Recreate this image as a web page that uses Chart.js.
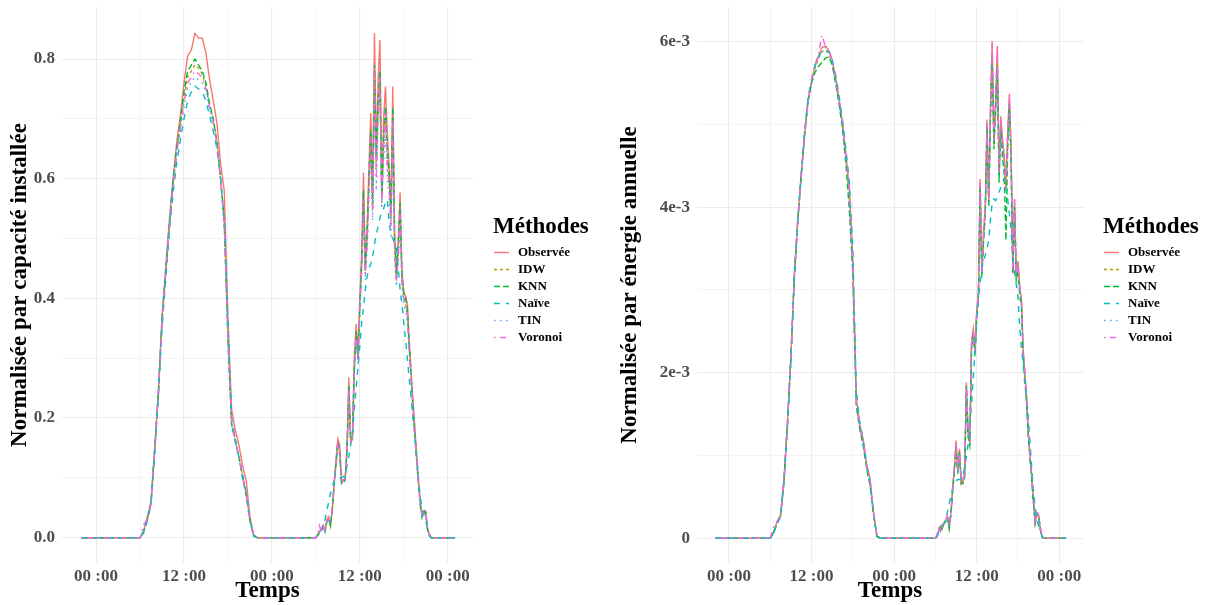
<!DOCTYPE html>
<html lang="fr">
<head>
<meta charset="utf-8">
<title>Production normalisée par méthode</title>
<script src="https://cdn.jsdelivr.net/npm/chart.js@4.4.1/dist/chart.umd.min.js"></script>
<style>
  html, body { margin: 0; padding: 0; background: #ffffff; overflow: hidden; }
  .panel { position: absolute; top: 0; width: 604px; height: 605px; }
  #panelCapacite { left: 0; }
  #panelEnergie { left: 604px; }
</style>
</head>
<body>
<div class="panel" id="panelCapacite"><canvas id="chartCapacite" width="604" height="605"></canvas></div>
<div class="panel" id="panelEnergie"><canvas id="chartEnergie" width="604" height="605"></canvas></div>
<script>
// Temps en heures depuis minuit du premier jour
const heures = [-2,
  5.5, 6, 6.5, 7, 7.5, 8, 8.5, 9, 9.5, 10, 10.5, 11, 11.5, 12, 12.5, 13, 13.5, 14, 14.5, 15, 15.5, 16, 16.5, 17, 17.5, 18, 18.5, 19, 19.5, 20, 20.5, 21, 21.5, 22,
  30, 30.25, 30.5, 30.75, 31, 31.25, 31.5, 31.75, 32, 32.25, 32.5, 32.75, 33, 33.25, 33.5, 33.75, 34, 34.25, 34.5, 34.75, 35, 35.25, 35.5, 35.75,
  36, 36.25, 36.5, 36.75, 37, 37.25, 37.5, 37.75, 38, 38.25, 38.5, 38.75, 39, 39.25, 39.5, 39.75, 40, 40.25, 40.5, 40.75, 41, 41.25, 41.5, 41.75,
  42, 42.25, 42.5, 42.75, 43, 43.25, 43.5, 43.75, 44, 44.25, 44.5, 44.75, 45, 45.25, 45.5, 45.75, 46,
  49];

const methodes = ['Observée', 'IDW', 'KNN', 'Naïve', 'TIN', 'Voronoi'];

// Normalisée par capacité installée
const capObservee = [0,
  0, 0, 0.012, 0.035, 0.06, 0.15, 0.245, 0.37, 0.45, 0.53, 0.6, 0.66, 0.705, 0.76, 0.805, 0.815, 0.843, 0.835, 0.835, 0.81, 0.765, 0.73, 0.693, 0.625, 0.58, 0.37, 0.215, 0.18, 0.155, 0.12, 0.095, 0.035, 0.005, 0,
  0, 0.005, 0.01, 0.015, 0.02, 0.012, 0.03, 0.035, 0.02, 0.05, 0.093, 0.13, 0.165, 0.155, 0.095, 0.097, 0.098, 0.15, 0.268, 0.165, 0.17, 0.3, 0.357, 0.31,
  0.4, 0.477, 0.61, 0.454, 0.52, 0.62, 0.71, 0.57, 0.843, 0.643, 0.765, 0.832, 0.577, 0.7, 0.754, 0.677, 0.62, 0.554, 0.754, 0.51, 0.437, 0.5, 0.577, 0.443,
  0.41, 0.404, 0.39, 0.33, 0.28, 0.23, 0.187, 0.14, 0.098, 0.06, 0.037, 0.045, 0.045, 0.015, 0.005, 0, 0,
  0];
const capIDW = [0,
  0, 0, 0.01, 0.03, 0.055, 0.145, 0.24, 0.36, 0.44, 0.52, 0.59, 0.645, 0.69, 0.735, 0.77, 0.78, 0.79, 0.785, 0.775, 0.755, 0.72, 0.7, 0.665, 0.6, 0.52, 0.34, 0.19, 0.165, 0.135, 0.105, 0.075, 0.03, 0.004, 0,
  0, 0.004, 0.008, 0.013, 0.018, 0.012, 0.028, 0.03, 0.022, 0.045, 0.09, 0.12, 0.15, 0.14, 0.095, 0.095, 0.1, 0.14, 0.245, 0.16, 0.17, 0.28, 0.335, 0.3,
  0.38, 0.45, 0.56, 0.44, 0.5, 0.59, 0.66, 0.55, 0.77, 0.62, 0.72, 0.76, 0.56, 0.66, 0.7, 0.64, 0.6, 0.53, 0.69, 0.49, 0.43, 0.48, 0.54, 0.43,
  0.4, 0.39, 0.37, 0.32, 0.27, 0.22, 0.18, 0.135, 0.095, 0.058, 0.036, 0.042, 0.04, 0.014, 0.004, 0, 0,
  0];
const capKNN = [0,
  0, 0, 0.01, 0.032, 0.058, 0.148, 0.24, 0.365, 0.445, 0.525, 0.595, 0.65, 0.695, 0.745, 0.78, 0.79, 0.8, 0.79, 0.78, 0.76, 0.725, 0.7, 0.66, 0.6, 0.53, 0.33, 0.19, 0.16, 0.135, 0.1, 0.07, 0.028, 0.003, 0,
  0, 0.004, 0.009, 0.012, 0.02, 0.01, 0.026, 0.032, 0.02, 0.048, 0.09, 0.125, 0.16, 0.145, 0.09, 0.092, 0.096, 0.145, 0.255, 0.16, 0.165, 0.29, 0.345, 0.3,
  0.39, 0.46, 0.58, 0.45, 0.51, 0.6, 0.68, 0.56, 0.79, 0.63, 0.73, 0.78, 0.57, 0.67, 0.72, 0.65, 0.61, 0.54, 0.72, 0.5, 0.44, 0.49, 0.56, 0.44,
  0.41, 0.4, 0.38, 0.32, 0.27, 0.22, 0.175, 0.13, 0.09, 0.055, 0.034, 0.044, 0.042, 0.013, 0.003, 0, 0,
  0];
const capNaive = [0,
  0, 0, 0.008, 0.028, 0.055, 0.14, 0.235, 0.35, 0.43, 0.51, 0.575, 0.625, 0.665, 0.7, 0.73, 0.745, 0.755, 0.75, 0.745, 0.73, 0.705, 0.68, 0.65, 0.6, 0.53, 0.36, 0.2, 0.165, 0.135, 0.105, 0.075, 0.03, 0.004, 0,
  0, 0.003, 0.008, 0.014, 0.02, 0.03, 0.045, 0.06, 0.075, 0.085, 0.095, 0.1, 0.1, 0.1, 0.1, 0.102, 0.104, 0.12, 0.135, 0.155, 0.175, 0.215, 0.25, 0.285,
  0.32, 0.36, 0.385, 0.415, 0.437, 0.45, 0.458, 0.47, 0.49, 0.508, 0.52, 0.535, 0.545, 0.55, 0.56, 0.565, 0.53, 0.505, 0.5, 0.493, 0.485, 0.45, 0.415, 0.39,
  0.36, 0.33, 0.298, 0.265, 0.235, 0.2, 0.17, 0.138, 0.1, 0.068, 0.05, 0.038, 0.028, 0.015, 0.006, 0, 0,
  0];
const capTIN = [0,
  0, 0, 0.01, 0.03, 0.056, 0.145, 0.238, 0.358, 0.438, 0.518, 0.585, 0.64, 0.68, 0.72, 0.75, 0.762, 0.77, 0.765, 0.76, 0.745, 0.715, 0.69, 0.655, 0.595, 0.52, 0.335, 0.19, 0.16, 0.132, 0.1, 0.072, 0.028, 0.003, 0,
  0, 0.004, 0.01, 0.014, 0.02, 0.012, 0.027, 0.03, 0.024, 0.046, 0.088, 0.12, 0.155, 0.14, 0.1, 0.098, 0.1, 0.14, 0.24, 0.16, 0.17, 0.27, 0.325, 0.29,
  0.37, 0.44, 0.54, 0.43, 0.48, 0.57, 0.64, 0.53, 0.74, 0.58, 0.69, 0.74, 0.55, 0.63, 0.68, 0.6, 0.57, 0.5, 0.66, 0.46, 0.42, 0.46, 0.52, 0.42,
  0.39, 0.38, 0.36, 0.31, 0.26, 0.21, 0.17, 0.13, 0.09, 0.055, 0.035, 0.04, 0.038, 0.013, 0.004, 0, 0,
  0];
const capVoronoi = [0,
  0, 0, 0.022, 0.03, 0.057, 0.146, 0.24, 0.36, 0.44, 0.52, 0.588, 0.642, 0.685, 0.728, 0.76, 0.77, 0.78, 0.775, 0.77, 0.75, 0.72, 0.695, 0.66, 0.6, 0.525, 0.34, 0.195, 0.165, 0.135, 0.102, 0.074, 0.03, 0.004, 0,
  0, 0.006, 0.02, 0.008, 0.022, 0.01, 0.03, 0.028, 0.025, 0.05, 0.09, 0.125, 0.16, 0.15, 0.09, 0.095, 0.098, 0.14, 0.25, 0.16, 0.165, 0.28, 0.34, 0.3,
  0.38, 0.45, 0.57, 0.44, 0.49, 0.58, 0.67, 0.54, 0.78, 0.6, 0.71, 0.77, 0.56, 0.65, 0.71, 0.62, 0.59, 0.52, 0.7, 0.48, 0.43, 0.47, 0.55, 0.43,
  0.4, 0.39, 0.37, 0.31, 0.27, 0.22, 0.175, 0.13, 0.092, 0.057, 0.035, 0.043, 0.04, 0.015, 0.004, 0, 0,
  0];

// Normalisée par énergie annuelle, valeurs en unités de 1e-3
const enerObservee = [0,
  0, 0, 0.08, 0.2, 0.28, 0.72, 1.4, 2.2, 3.2, 3.85, 4.38, 4.88, 5.3, 5.52, 5.7, 5.82, 5.93, 5.95, 5.9, 5.78, 5.57, 5.3, 5.02, 4.62, 4.2, 3.35, 1.7, 1.38, 1.2, 0.9, 0.72, 0.32, 0.02, 0,
  0, 0.03, 0.1, 0.15, 0.12, 0.19, 0.22, 0.26, 0.12, 0.3, 0.6, 0.85, 1.18, 0.8, 1.08, 0.65, 0.68, 0.75, 1.88, 1.28, 1.16, 2.37, 2.53, 2.28,
  2.75, 2.97, 4.34, 3.21, 3.7, 4.0, 5.06, 4.1, 5.2, 6.01, 4.82, 5.3, 5.95, 4.42, 5.1, 4.82, 4.62, 4.26, 4.9, 5.37, 4.7, 3.21, 4.1, 3.17,
  3.35, 3.05, 2.89, 2.28, 2.0, 1.7, 1.28, 1.0, 0.75, 0.45, 0.19, 0.3, 0.28, 0.12, 0.02, 0, 0,
  0];
const enerIDW = [0,
  0, 0, 0.07, 0.18, 0.27, 0.7, 1.38, 2.18, 3.15, 3.82, 4.36, 4.86, 5.27, 5.5, 5.68, 5.8, 5.88, 5.9, 5.86, 5.74, 5.52, 5.27, 4.98, 4.58, 4.12, 3.25, 1.62, 1.34, 1.15, 0.86, 0.66, 0.3, 0.02, 0,
  0, 0.03, 0.09, 0.14, 0.12, 0.18, 0.21, 0.24, 0.13, 0.29, 0.58, 0.82, 1.12, 0.82, 1.02, 0.68, 0.7, 0.78, 1.8, 1.26, 1.18, 2.3, 2.45, 2.25,
  2.7, 2.92, 4.2, 3.2, 3.62, 3.95, 4.92, 4.05, 5.1, 5.82, 4.75, 5.2, 5.78, 4.4, 5.0, 4.75, 4.55, 4.2, 4.82, 5.22, 4.6, 3.25, 4.0, 3.2,
  3.3, 3.0, 2.85, 2.25, 1.98, 1.66, 1.25, 0.98, 0.72, 0.43, 0.2, 0.29, 0.26, 0.11, 0.02, 0, 0,
  0];
const enerKNN = [0,
  0, 0, 0.07, 0.19, 0.28, 0.71, 1.39, 2.2, 3.18, 3.86, 4.4, 4.9, 5.3, 5.5, 5.63, 5.7, 5.75, 5.8, 5.82, 5.72, 5.5, 5.24, 4.95, 4.52, 3.95, 3.2, 1.6, 1.32, 1.12, 0.84, 0.64, 0.28, 0.02, 0,
  0, 0.02, 0.09, 0.13, 0.11, 0.18, 0.2, 0.25, 0.12, 0.28, 0.56, 0.8, 1.1, 0.78, 1.05, 0.66, 0.66, 0.74, 1.85, 1.22, 1.12, 2.32, 2.5, 2.2,
  2.68, 2.9, 4.25, 3.15, 3.6, 3.92, 5.0, 4.0, 5.1, 5.85, 4.7, 5.15, 5.7, 4.3, 4.95, 4.6, 4.4, 3.6, 4.7, 5.25, 4.55, 3.2, 4.0, 3.1,
  3.25, 2.95, 2.8, 2.2, 1.92, 1.62, 1.22, 0.96, 0.7, 0.42, 0.18, 0.3, 0.27, 0.1, 0.01, 0, 0,
  0];
const enerNaive = [0,
  0, 0, 0.06, 0.17, 0.26, 0.68, 1.35, 2.15, 3.12, 3.85, 4.4, 4.92, 5.33, 5.55, 5.72, 5.82, 5.88, 5.9, 5.88, 5.78, 5.6, 5.35, 5.05, 4.7, 4.3, 3.5, 1.8, 1.4, 1.18, 0.88, 0.68, 0.3, 0.03, 0,
  0, 0.02, 0.08, 0.14, 0.16, 0.18, 0.22, 0.32, 0.42, 0.5, 0.6, 0.66, 0.69, 0.71, 0.71, 0.71, 0.76, 0.86, 0.98, 1.13, 1.36, 1.62, 1.95, 2.25,
  2.6, 2.89, 3.09, 3.25, 3.35, 3.42, 3.5, 3.6, 3.85, 4.05, 4.1, 4.08, 4.12, 4.18, 4.24, 4.3, 4.35, 4.3, 4.1, 3.92, 3.7, 3.42, 3.2, 3.07,
  2.92, 2.55, 2.3, 2.12, 1.85, 1.72, 1.45, 1.16, 0.85, 0.58, 0.38, 0.22, 0.14, 0.08, 0.02, 0, 0,
  0];
const enerTIN = [0,
  0, 0, 0.07, 0.18, 0.27, 0.7, 1.37, 2.17, 3.14, 3.83, 4.37, 4.87, 5.28, 5.52, 5.7, 5.81, 5.9, 5.93, 5.88, 5.76, 5.55, 5.28, 5.0, 4.6, 4.15, 3.28, 1.65, 1.36, 1.16, 0.87, 0.68, 0.3, 0.02, 0,
  0, 0.03, 0.1, 0.14, 0.12, 0.19, 0.21, 0.25, 0.14, 0.3, 0.58, 0.84, 1.1, 0.84, 1.0, 0.7, 0.72, 0.8, 1.75, 1.3, 1.2, 2.28, 2.42, 2.3,
  2.72, 2.95, 4.1, 3.25, 3.6, 3.98, 4.85, 4.1, 5.05, 5.75, 4.85, 5.22, 5.7, 4.5, 5.0, 4.8, 4.6, 4.25, 4.85, 5.2, 4.65, 3.3, 4.0, 3.25,
  3.32, 3.02, 2.86, 2.3, 2.0, 1.68, 1.27, 1.0, 0.74, 0.44, 0.2, 0.29, 0.27, 0.12, 0.02, 0, 0,
  0];
const enerVoronoi = [0,
  0, 0, 0.15, 0.2, 0.28, 0.72, 1.4, 2.2, 3.18, 3.86, 4.4, 4.9, 5.3, 5.54, 5.72, 5.85, 6.08, 5.95, 5.9, 5.78, 5.56, 5.3, 5.04, 4.62, 4.25, 3.3, 1.66, 1.38, 1.18, 0.88, 0.7, 0.32, 0.03, 0,
  0, 0.05, 0.15, 0.08, 0.14, 0.2, 0.22, 0.27, 0.15, 0.3, 0.6, 0.86, 1.15, 0.82, 1.06, 0.66, 0.7, 0.78, 1.85, 1.28, 1.16, 2.35, 2.5, 2.26,
  2.74, 2.95, 4.3, 3.2, 3.68, 4.0, 5.02, 4.08, 5.15, 5.98, 4.8, 5.28, 5.92, 4.4, 5.08, 4.8, 4.6, 4.22, 4.88, 5.35, 4.68, 3.2, 4.08, 3.15,
  3.33, 3.04, 2.88, 2.27, 2.0, 1.7, 1.28, 1.0, 0.75, 0.46, 0.2, 0.32, 0.28, 0.13, 0.02, 0, 0,
  0];

// Graduations
const ticksTemps = [0, 12, 24, 36, 48];
const etiquettesTemps = ['00 :00', '12 :00', '00 :00', '12 :00', '00 :00'];
const ticksCapacite = [0, 0.2, 0.4, 0.6, 0.8];
const etiquettesCapacite = ['0.0', '0.2', '0.4', '0.6', '0.8'];
const ticksEnergie = [0, 2, 4, 6];
const etiquettesEnergie = ['0', '2e-3', '4e-3', '6e-3'];

// Styles ggplot (palette hue + types de trait par défaut)
const couleurs = ['#F8766D', '#B79F00', '#00BA38', '#00BFC4', '#619CFF', '#F564E3'];
const tirets = [[], [3, 3], [6, 3], [6, 6], [1.5, 4.5], [1.5, 4.5, 6, 4.5]];
const FONT = '"Liberation Serif", "DejaVu Serif", serif';
const GRILLE = '#EBEBEB';

function indexTick(value, liste) {
  return liste.findIndex(t => Math.abs(t - value) < 1e-6);
}

// Légende dessinée à droite du panneau, façon ggplot
const legendeMethodes = {
  id: 'legendeMethodes',
  afterDraw(chart, args, opts) {
    const ctx = chart.ctx;
    ctx.save();
    ctx.fillStyle = '#000000';
    ctx.textAlign = 'left';
    ctx.textBaseline = 'middle';
    ctx.font = `bold 23px ${FONT}`;
    ctx.fillText('Méthodes', opts.x, 227.5);
    ctx.font = `bold 13px ${FONT}`;
    chart.data.datasets.forEach((ds, i) => {
      const y = 252.5 + i * 17;
      ctx.strokeStyle = ds.borderColor;
      ctx.lineWidth = ds.borderWidth;
      ctx.setLineDash(ds.borderDash);
      ctx.beginPath();
      ctx.moveTo(opts.x + 1, y);
      ctx.lineTo(opts.x + 16, y);
      ctx.stroke();
      ctx.fillText(ds.label, opts.x + 25, y);
    });
    ctx.restore();
  }
};

function tracerPanneau(canvasId, series, cfg) {
  const datasets = series.map((valeurs, i) => ({
    label: methodes[i],
    data: heures.map((h, k) => ({ x: h, y: valeurs[k] })),
    borderColor: couleurs[i],
    borderWidth: 1.4,
    borderDash: tirets[i],
    pointRadius: 0,
    tension: 0,
    fill: false,
    order: series.length - i   // Observée dessous, Voronoi dessus
  }));

  return new Chart(document.getElementById(canvasId), {
    type: 'line',
    data: { datasets },
    plugins: [legendeMethodes],
    options: {
      responsive: false,
      animation: false,
      events: [],
      layout: { padding: { top: 7, right: cfg.droite, left: 0, bottom: 0 } },
      plugins: {
        legend: { display: false },
        tooltip: { enabled: false },
        legendeMethodes: { x: cfg.legendeX }
      },
      scales: {
        x: {
          type: 'linear',
          min: -4.65,
          max: 51.45,
          afterFit: (s) => { s.height = 42; s.paddingLeft = 0; s.paddingRight = 0; },
          border: { display: false },
          grid: {
            drawTicks: false,
            color: GRILLE,
            lineWidth: (c) => indexTick(c.tick.value, ticksTemps) >= 0 ? 1.1 : 0.55
          },
          ticks: {
            stepSize: 6,
            includeBounds: false,
            autoSkip: false,
            maxRotation: 0,
            padding: 3,
            color: '#4D4D4D',
            font: { family: FONT, size: 17, weight: 'bold' },
            callback: (v) => {
              const k = indexTick(v, ticksTemps);
              return k >= 0 ? etiquettesTemps[k] : '';
            }
          },
          title: {
            display: true,
            text: 'Temps',
            color: '#000000',
            padding: 0,
            font: { family: FONT, size: 23, weight: 'bold' }
          }
        },
        y: {
          type: 'linear',
          min: cfg.yMin,
          max: cfg.yMax,
          afterFit: (s) => { s.width = cfg.largeurY; s.paddingTop = 0; s.paddingBottom = 0; },
          border: { display: false },
          grid: {
            drawTicks: false,
            color: GRILLE,
            lineWidth: (c) => indexTick(c.tick.value, cfg.ticks) >= 0 ? 1.1 : 0.55
          },
          ticks: {
            stepSize: cfg.pas,
            includeBounds: false,
            autoSkip: false,
            padding: 7,
            color: '#4D4D4D',
            font: { family: FONT, size: 17, weight: 'bold' },
            callback: (v) => {
              const k = indexTick(v, cfg.ticks);
              return k >= 0 ? cfg.etiquettes[k] : '';
            }
          },
          title: {
            display: true,
            text: cfg.titreY,
            color: '#000000',
            padding: { top: cfg.titrePad, bottom: 0 },
            font: { family: FONT, size: 23, weight: 'bold' }
          }
        }
      }
    }
  });
}

tracerPanneau('chartCapacite',
  [capObservee, capIDW, capKNN, capNaive, capTIN, capVoronoi],
  {
    titreY: 'Normalisée par capacité installée',
    yMin: -0.0423, yMax: 0.887, pas: 0.1,
    ticks: ticksCapacite, etiquettes: etiquettesCapacite,
    largeurY: 62, titrePad: 6, droite: 131, legendeX: 493
  });

tracerPanneau('chartEnergie',
  [enerObservee, enerIDW, enerKNN, enerNaive, enerTIN, enerVoronoi],
  {
    titreY: 'Normalisée par énergie annuelle',
    yMin: -0.3, yMax: 6.42, pas: 1,
    ticks: ticksEnergie, etiquettes: etiquettesEnergie,
    largeurY: 93, titrePad: 12, droite: 125, legendeX: 499
  });
</script>
</body>
</html>
